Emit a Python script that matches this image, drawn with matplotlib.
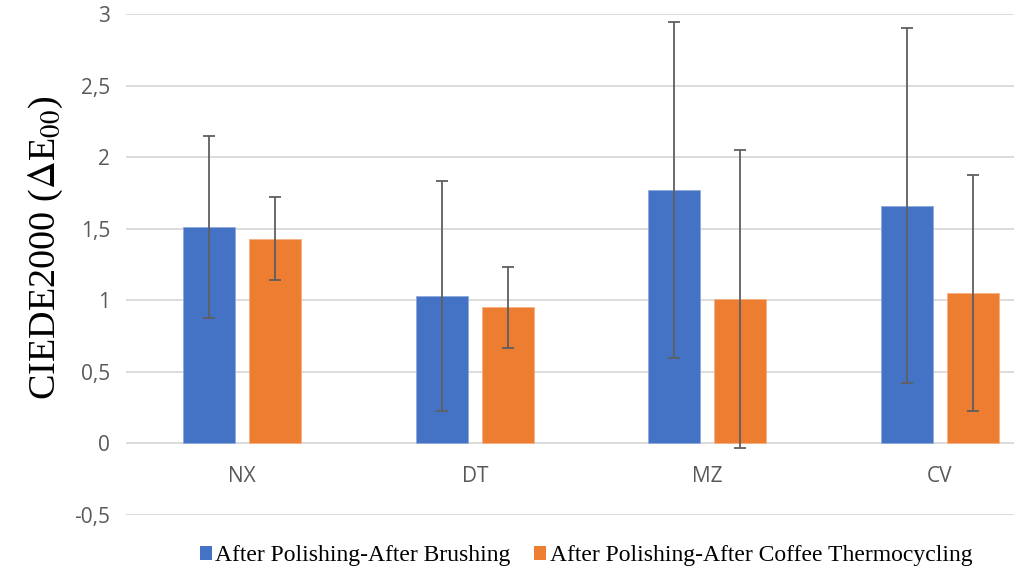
import matplotlib
matplotlib.use("Agg")
import matplotlib.pyplot as plt
import numpy as np
from matplotlib.patches import Patch

categories = ["NX", "DT", "MZ", "CV"]
brushing = [1.51, 1.03, 1.77, 1.66]
brushing_err = [0.635, 0.80, 1.175, 1.24]
coffee = [1.43, 0.95, 1.01, 1.05]
coffee_err = [0.29, 0.28, 1.04, 0.825]
yticks = [-0.5, 0, 0.5, 1, 1.5, 2, 2.5, 3]
ytick_labels = ["-0,5", "0", "0,5", "1", "1,5", "2", "2,5", "3"]
series_names = ["After Polishing-After Brushing", "After Polishing-After Coffee Thermocycling"]

blue = "#4472C4"
orange = "#ED7D31"
grid_c = "#D9D9D9"
err_c = "#5F5F5F"
tick_c = "#595959"

W, H = 1014, 577
fig = plt.figure(figsize=(W / 100, H / 100), dpi=100)
ax = fig.add_axes([126 / W, (H - 515) / H, 930 / W, 501 / H])

x = np.arange(len(categories))
off = 0.142
bw = 0.224
ax.bar(x - off, brushing, bw, color=blue, edgecolor="#8FAADC", linewidth=0.6, zorder=2)
ax.bar(x + off, coffee, bw, color=orange, edgecolor="#F4B183", linewidth=0.6, zorder=2)
ax.errorbar(x - off, brushing, yerr=brushing_err, fmt="none", ecolor=err_c,
            elinewidth=1.3, capsize=4.5, capthick=1.3, zorder=3)
ax.errorbar(x + off, coffee, yerr=coffee_err, fmt="none", ecolor=err_c,
            elinewidth=1.3, capsize=4.5, capthick=1.3, zorder=3)

ax.set_xlim(-0.5, len(categories) - 0.5)
ax.set_ylim(-0.5, 3)
ax.set_yticks(yticks)
ax.set_yticklabels(ytick_labels, fontsize=15, color=tick_c, family="Open Sans")
ax.tick_params(axis="y", length=0, pad=11.5)
ax.set_xticks([])
for s in ax.spines.values():
    s.set_visible(False)
for yv in yticks:
    ax.axhline(yv, color=grid_c, linewidth=1.3, zorder=1)

for xi, c in zip(x, categories):
    ax.text(xi, -0.23, c, ha="center", va="center", fontsize=15, color=tick_c,
            family="Open Sans")

plt.rcParams["mathtext.fontset"] = "stix"
fig.text(46 / W, 1 - 248 / H, r"CIEDE2000 ($\Delta$E$_{00}$)", rotation=90,
         ha="center", va="center", fontsize=27.5, family="Liberation Serif")

handles = [Patch(facecolor=blue), Patch(facecolor=orange)]
fig.legend(handles, series_names, loc="center", bbox_to_anchor=(586 / W, 1 - 556 / H),
           ncol=2, frameon=False, prop={"family": "Liberation Serif", "size": 17},
           handlelength=0.5, handleheight=0.5, handletextpad=0.15, columnspacing=1.0)

fig.savefig("out.png", dpi=100)
